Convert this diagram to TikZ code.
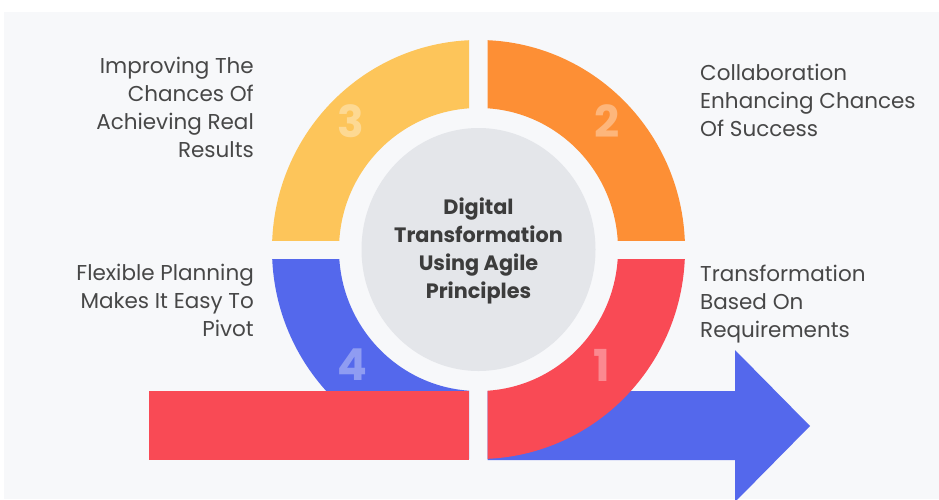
\documentclass[tikz,border=0pt]{standalone}
\usepackage{fontspec}
\setmainfont{Poppins}
\definecolor{bgcol}{HTML}{F7F8FA}
\definecolor{yellowq}{HTML}{FDC55A}
\definecolor{orangeq}{HTML}{FD8F35}
\definecolor{blueq}{HTML}{5468EC}
\definecolor{redq}{HTML}{F94A55}
\definecolor{hubcol}{HTML}{E4E6EA}
\definecolor{txtcol}{HTML}{474747}

\begin{document}
\begin{tikzpicture}[x=1pt,y=-1pt,
    lbl/.style={text=txtcol,inner sep=0pt,font=\fontsize{21.5}{28}\selectfont},
    ctrtxt/.style={text=txtcol!85!black,inner sep=0pt,align=center,
      font=\fontsize{20.8}{28}\selectfont\bfseries},
    numtxt/.style={text=white,text opacity=0.35,inner sep=0pt,
      font=\fontsize{44}{44}\selectfont\bfseries}]
      \useasboundingbox (0,0) rectangle (939,499) ;
      \fill[bgcol] (4,12) rectangle (939,499) ;
      \coordinate (C) at (478.5,249.5) ;
      % arrow under the ring
      \fill[blueq] (487.7,391) -- (735,391) -- (735,350) -- (810,426) %
        -- (735,502) -- (735,460) -- (487.7,460) -- cycle ;
      % four quarters of the ring
      \foreach \col/\xa/\ya/\xb/\yb in {blueq/0/259/469/499,redq/487.7/259/939/499,%
        yellowq/0/0/469/240,orangeq/487.7/0/939/240}{
        \begin{scope}
          \clip (\xa,\ya) rectangle (\xb,\yb) ;
          \fill[\col,even odd rule] (C) ellipse [x radius=206.5pt,y radius=209.5pt] %
            (C) ellipse [x radius=139.5pt,y radius=141.5pt] ;
        \end{scope}
      }
      \fill[redq] (149,391) rectangle (469,460) ;
      \fill[hubcol] (C) ellipse [x radius=117pt,y radius=121.5pt] ;
      \node[numtxt] (n3) at (351,121) {3} ;
      \node[numtxt] (n2) at (607,121) {2} ;
      \node[numtxt] (n4) at (352,365) {4} ;
      \node[numtxt] (n1) at (602,365) {1} ;
      \node[ctrtxt,anchor=base] (hub) at (478.5,298) %
        {Digital\\Transformation\\Using Agile\\Principles} ;
      \node[lbl,align=right,anchor=base east] (t3) at (254,157) %
        {Improving The\\Chances Of\\Achieving Real\\Results} ;
      \node[lbl,align=right,anchor=base east] (t4) at (254,336) %
        {Flexible Planning\\Makes It Easy To\\Pivot} ;
      \node[lbl,align=left,anchor=base west] (t2) at (700,136.5) %
        {Collaboration\\Enhancing Chances\\Of Success} ;
      \node[lbl,align=left,anchor=base west] (t1) at (700,337) %
        {Transformation\\Based On\\Requirements} ;
    \end{tikzpicture}
\end{document}
